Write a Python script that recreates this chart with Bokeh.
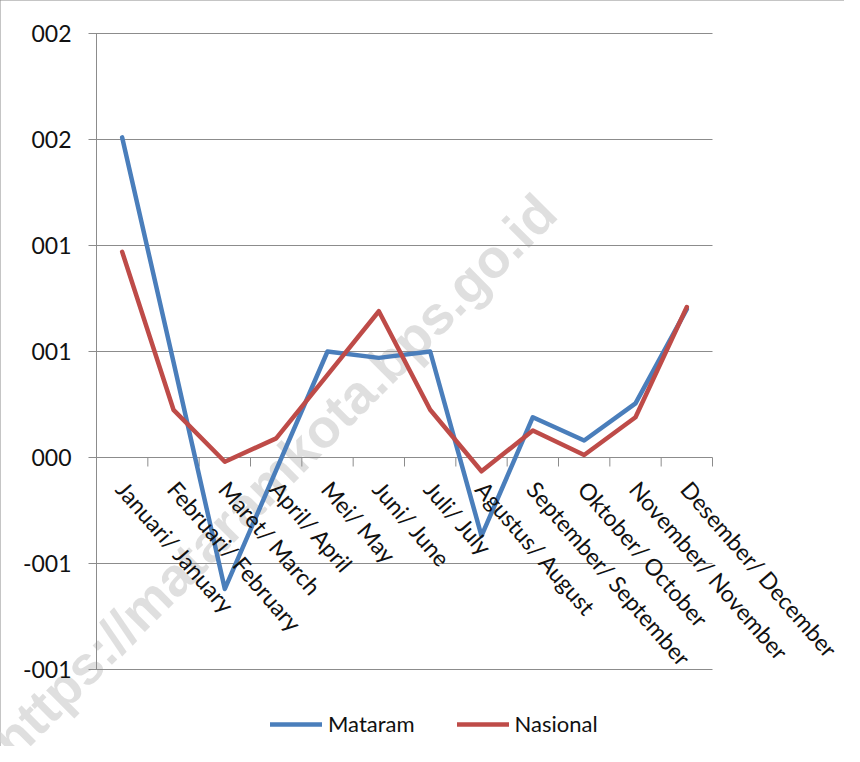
import math
from bokeh.plotting import figure
from bokeh.models import Range1d, Legend, LegendItem
from bokeh.core.properties import value
from bokeh.embed import file_html
from bokeh.resources import INLINE

# ---- data ----
categories = ["Januari/ January", "Februari/ February", "Maret/ March", "April/ April",
              "Mei/ May", "Juni/ June", "Juli/ July", "Agustus/ August",
              "September/ September", "Oktober/ October", "November/ November",
              "Desember/ December"]
mataram = [1.51, 0.45, -0.62, -0.06, 0.50, 0.47, 0.50, -0.37, 0.19, 0.08, 0.255, 0.70]
nasional = [0.97, 0.225, -0.02, 0.09, 0.39, 0.69, 0.225, -0.065, 0.127, 0.012, 0.19, 0.71]
y_ticks = [-1.0, -0.5, 0.0, 0.5, 1.0, 1.5, 2.0]
y_tick_labels = ["-001", "-001", "000", "001", "001", "002", "002"]
series_names = ["Mataram", "Nasional"]
watermark = "https://mataramkota.bps.go.id"

# ---- layout (pixels) ----
W, H = 844, 746
PX_L, PX_R, PX_T, PX_B = 96, 712, 33, 669
FONT = "Lato"
GRAY = "#8c8c8c"
BLUE = "#4a7ebb"
RED = "#be4b48"
TXT = "#111111"

n = len(categories)
xc = [i + 0.5 for i in range(n)]
ymin, ymax = y_ticks[0], y_ticks[-1]
ux = n / (PX_R - PX_L)              # data units per pixel (x)
uy = (ymax - ymin) / (PX_B - PX_T)  # data units per pixel (y)

x_range = Range1d(0 - PX_L * ux, n + (W - PX_R) * ux)
y_range = Range1d(ymin - (H - PX_B) * uy, ymax + PX_T * uy)

p = figure(width=W, height=H, output_backend="svg", toolbar_location=None,
           x_range=x_range, y_range=y_range, title=None,
           x_axis_location=None, y_axis_location=None,
           min_border=0, min_border_left=0, min_border_right=0,
           min_border_top=0, min_border_bottom=0)
p.outline_line_color = None
p.grid.visible = False
p.background_fill_color = "white"
p.border_fill_color = "white"
p.styles = {"outline": "2px solid #8a8a8a", "outline-offset": "-2px"}

# watermark (decoration)
wx = x_range.start + 1 * ux
wy = y_range.end - 748 * uy
p.text(x=[wx], y=[wy], text=[watermark], angle=math.pi / 4,
       text_font=value("Liberation Sans"), text_font_style="bold",
       text_font_size="54px", text_color="#dcdcdc", text_alpha=0.9,
       text_baseline="alphabetic", text_align="left")

# gridlines (incl. outward y tick) and y axis line
tick_y = 8 * ux
p.segment(x0=[-tick_y] * len(y_ticks), x1=[n] * len(y_ticks), y0=y_ticks, y1=y_ticks,
          line_color=GRAY, line_width=1)
p.segment(x0=[0], x1=[0], y0=[ymin], y1=[ymax], line_color=GRAY, line_width=1)

# x axis ticks at category boundaries, below zero line
bounds = list(range(n + 1))
tick_x = 9 * uy
p.segment(x0=bounds, x1=bounds, y0=[0] * len(bounds), y1=[-tick_x] * len(bounds),
          line_color=GRAY, line_width=1)

# y tick labels
p.text(x=[0] * len(y_ticks), y=y_ticks, text=y_tick_labels, x_offset=-25,
       text_font=value(FONT), text_font_size="23px", text_color=TXT,
       text_align="right", text_baseline="middle")

# series
r1 = p.line(xc, mataram, line_color=BLUE, line_width=4.5, line_join="round", line_cap="round")
r2 = p.line(xc, nasional, line_color=RED, line_width=4.5, line_join="round", line_cap="round")

# category labels
p.text(x=xc, y=[0] * n, text=categories, angle=-math.radians(49),
       x_offset=-1, y_offset=27, text_font=value(FONT), text_font_size="23px",
       text_color=TXT, text_align="left", text_baseline="middle")

legend = Legend(items=[LegendItem(label=series_names[0], renderers=[r1]),
                       LegendItem(label=series_names[1], renderers=[r2])],
                orientation="horizontal", location=(270, H - 737),
                label_text_font=FONT, label_text_font_size="22px",
                label_text_color=TXT, glyph_width=52, glyph_height=26,
                label_height=26, label_standoff=6, spacing=42, padding=0, margin=0,
                border_line_alpha=0, background_fill_alpha=0)
p.add_layout(legend, "center")

open("out.html", "w").write(file_html(p, INLINE))
